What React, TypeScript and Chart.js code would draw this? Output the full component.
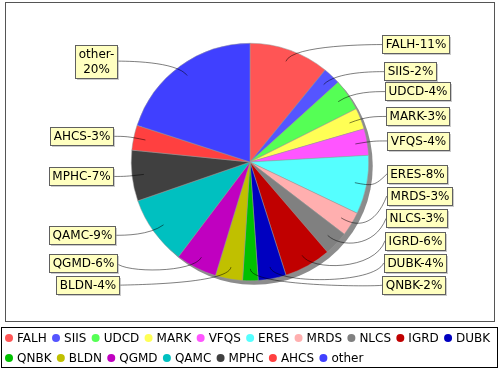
import React, { useEffect, useRef } from "react";
import { Chart, registerables } from "chart.js";

Chart.register(...registerables);

const categories = ["FALH", "SIIS", "UDCD", "MARK", "VFQS", "ERES", "MRDS", "NLCS", "IGRD", "DUBK", "QNBK", "BLDN", "QGMD", "QAMC", "MPHC", "AHCS", "other"];
const values = [10.9, 2.4, 4.3, 2.9, 3.6, 8.0, 3.3, 3.3, 6.4, 3.8, 2.1, 3.7, 5.6, 9.4, 6.9, 3.4, 20.0];
const colors = ["#FF5555", "#5555FF", "#55FF55", "#FFFF55", "#FF55FF", "#55FFFF", "#FFAFAF", "#808080", "#C00000", "#0000C0", "#00C000", "#C0C000", "#C000C0", "#00C0C0", "#404040", "#FF4040", "#4040FF"];

const FONT = '12px "DejaVu Sans"';
const MAX_LABEL_CHARS = 8;

function wrap(text: string): string[] {
  if (text.length <= MAX_LABEL_CHARS) return [text];
  const k = text.indexOf("-");
  if (k < 0) return [text];
  return [text.slice(0, k + 1), text.slice(k + 1)];
}

const framePlugin = {
  id: "frame",
  beforeDraw(chart: any) {
    const ctx = chart.ctx as CanvasRenderingContext2D;
    ctx.save();
    ctx.strokeStyle = "#555";
    ctx.lineWidth = 1;
    ctx.strokeRect(5.5, 2.5, 489, 319);
    ctx.restore();
  },
};

const shadowPlugin = {
  id: "pieShadow",
  beforeDatasetsDraw(chart: any) {
    const arc = chart.getDatasetMeta(0).data[0] as any;
    if (!arc) return;
    const ctx = chart.ctx as CanvasRenderingContext2D;
    ctx.save();
    ctx.fillStyle = "#8c8c8c";
    ctx.beginPath();
    ctx.arc(arc.x + 4, arc.y + 4, arc.outerRadius, 0, Math.PI * 2);
    ctx.fill();
    ctx.restore();
  },
};

const labelPlugin = {
  id: "pieLabels",
  afterDatasetsDraw(chart: any) {
    const arcs = chart.getDatasetMeta(0).data as any[];
    if (!arcs.length) return;
    const ctx = chart.ctx as CanvasRenderingContext2D;
    const cx = arcs[0].x, cy = arcs[0].y, r = arcs[0].outerRadius;
    const total = values.reduce((a, b) => a + b, 0);
    ctx.save();
    ctx.font = FONT;
    const linkR = r * 1.05;
    const lineH = 14.3, padV = 2, padH = 3, gap = 4;
    const minY = cy - r * 1.115, maxY = cy + r * 1.115;
    const recs = arcs.map((arc, i) => {
      const mid = (arc.startAngle + arc.endAngle) / 2;
      const c = Math.cos(mid), s = Math.sin(mid);
      const text = `${categories[i]}-${Math.round((values[i] / total) * 100)}%`;
      const lines = wrap(text);
      const w = Math.max(...lines.map((l) => ctx.measureText(l).width)) + 2 * padH;
      const h = lines.length * lineH + 2 * padV;
      return {
        i, c, s, lines, w, h,
        right: c >= 0,
        y: cy + s * linkR,
        elbowX: cx + c * linkR,
        elbowY: cy + s * linkR,
        linkX: cx + c * r * 0.9,
        linkY: cy + s * r * 0.9,
        bx: 0,
      };
    });
    for (const side of [true, false]) {
      const g = recs.filter((q) => q.right === side).sort((a, b) => a.y - b.y);
      for (let k = 0; k < g.length - 1; k++) {
        const a = g[k], b = g[k + 1];
        if (b.y - b.h / 2 < a.y + a.h / 2) b.y = Math.min(maxY - b.h / 2, a.y + a.h / 2 + gap + b.h / 2);
      }
      for (let k = g.length - 1; k > 0; k--) {
        const a = g[k], b = g[k - 1];
        if (b.y + b.h / 2 > a.y - a.h / 2) b.y = Math.max(minY + b.h / 2, a.y - a.h / 2 - gap - b.h / 2);
      }
    }
    const ea = r * 1.155, eb = r * 3.8;
    ctx.strokeStyle = "rgba(0,0,0,0.85)";
    ctx.lineWidth = 0.6;
    for (const q of recs) {
      const dx = ea * Math.sqrt(Math.max(0, 1 - ((q.y - cy) / eb) ** 2));
      const targetX = q.right ? cx + dx : cx - dx;
      const anchorX = q.right ? cx + linkR : cx - linkR;
      ctx.beginPath();
      ctx.moveTo(targetX, q.y);
      ctx.bezierCurveTo(anchorX, q.elbowY, q.elbowX, q.elbowY, q.linkX, q.linkY);
      ctx.stroke();
      q.bx = Math.round(q.right ? targetX : targetX - q.w);
    }
    ctx.textAlign = "center";
    ctx.textBaseline = "middle";
    for (const q of recs) {
      const bx = q.bx;
      const by = Math.round(q.y - q.h / 2);
      const w = Math.round(q.w), h = Math.round(q.h);
      ctx.fillStyle = "rgba(151,151,151,0.5)";
      ctx.fillRect(bx + 2, by + 2, w, h);
      ctx.fillStyle = "#FFFFC0";
      ctx.fillRect(bx, by, w, h);
      ctx.strokeStyle = "#606060";
      ctx.lineWidth = 1;
      ctx.strokeRect(bx + 0.5, by + 0.5, w, h);
      ctx.fillStyle = "#000";
      q.lines.forEach((l, k) => {
        ctx.fillText(l, bx + w / 2 + 0.5, by + padV + lineH * (k + 0.5) + 1);
      });
    }
    ctx.restore();
  },
};

const legendPlugin = {
  id: "boxLegend",
  afterDraw(chart: any) {
    const ctx = chart.ctx as CanvasRenderingContext2D;
    ctx.save();
    ctx.strokeStyle = "#000";
    ctx.lineWidth = 1;
    ctx.strokeRect(1.5, 327.5, 496, 40);
    ctx.font = FONT;
    ctx.textBaseline = "middle";
    ctx.textAlign = "left";
    let x = 5, row = 0;
    categories.forEach((cat, i) => {
      const tw = ctx.measureText(cat).width;
      const iw = 8 + 4 + tw;
      if (x + iw > 495 && x > 5) {
        row++;
        x = 5;
      }
      const y = 338 + row * 20;
      ctx.fillStyle = colors[i];
      ctx.beginPath();
      ctx.arc(x + 4, y, 4, 0, Math.PI * 2);
      ctx.fill();
      ctx.fillStyle = "#000";
      ctx.fillText(cat, x + 12, y + 0.5);
      x += iw + 5.3;
    });
    ctx.restore();
  },
};

export default function App() {
  const ref = useRef<HTMLCanvasElement | null>(null);
  useEffect(() => {
    if (!ref.current) return;
    const chart = new Chart(ref.current, {
      type: "pie",
      data: {
        labels: categories,
        datasets: [
          {
            data: values,
            backgroundColor: colors,
            borderColor: "#999",
            borderWidth: 0.5,
          },
        ],
      },
      options: {
        responsive: false,
        animation: false,
        layout: { padding: { left: 131, right: 131, top: 43, bottom: 89 } },
        plugins: { legend: { display: false }, tooltip: { enabled: false } },
      },
      plugins: [framePlugin, shadowPlugin, labelPlugin, legendPlugin],
    } as any);
    return () => chart.destroy();
  }, []);
  return (
    <div style={{ position: "absolute", left: 0, top: 0, width: 500, height: 370, background: "#fff" }}>
      <canvas ref={ref} width={500} height={370} style={{ display: "block" }} />
    </div>
  );
}
